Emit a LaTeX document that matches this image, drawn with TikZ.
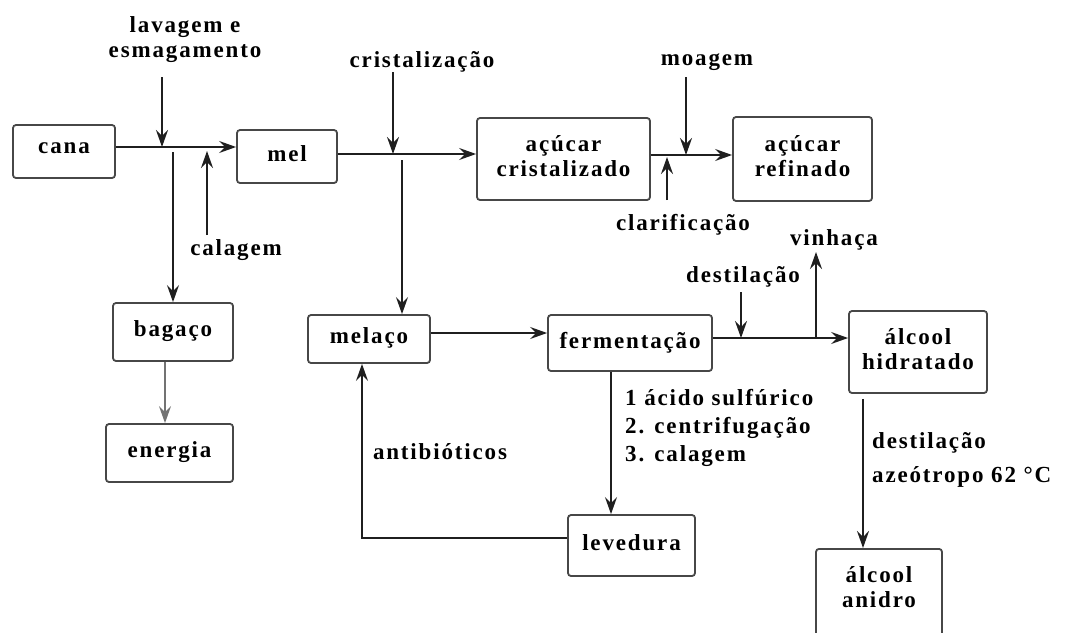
\documentclass[tikz,border=0pt]{standalone}
\usepackage{fontspec}
\setmainfont{Liberation Serif}[LetterSpace=8]
\usetikzlibrary{arrows.meta}
\begin{document}
\begin{tikzpicture}[x=1pt,y=-1pt,
  txt/.style={font=\fontsize{23}{25}\selectfont\bfseries},
  box/.style={txt, draw=black!72, line width=1.8pt, rounded corners=3pt, inner sep=0pt, align=center, text depth=6pt},
  lbl/.style={txt, inner sep=0pt, align=center},
  ln/.style={line width=1.7pt, draw=black!88},
  arr/.style={ln, -{Stealth[length=17pt,width=12pt,inset=6pt]}}]
\useasboundingbox (0,0) rectangle (1083,632);
% boxes
\node[box, minimum width=102pt, minimum height=53pt] (cana) at (64,151.5) {cana};
\node[box, minimum width=100pt, minimum height=53pt] (mel) at (287,156.5) {mel};
\node[box, minimum width=173pt, minimum height=82pt] (acr) at (563.5,159) {açúcar\\cristalizado};
\node[box, minimum width=139pt, minimum height=84pt] (aref) at (802.5,159) {açúcar\\refinado};
\node[box, minimum width=120pt, minimum height=58pt] (bagaco) at (173,332) {bagaço};
\node[box, minimum width=127pt, minimum height=58pt] (energia) at (169.5,453) {energia};
\node[box, minimum width=122pt, minimum height=48pt] (melaco) at (369,339) {melaço};
\node[box, minimum width=164pt, minimum height=56pt] (ferm) at (630,343) {fermentação};
\node[box, minimum width=138pt, minimum height=82pt] (alch) at (918,352) {álcool\\hidratado};
\node[box, minimum width=127pt, minimum height=61pt] (lev) at (631.5,545.5) {levedura};
\node[box, minimum width=126pt, minimum height=97pt, anchor=north] (alca) at (879,548) {};
\node[lbl] (alcat) at (879,587) {álcool\\anidro};
% labels
\node[lbl] (lav) at (185,40) {lavagem e\\esmagamento};
\node[lbl] (cal) at (236,250) {calagem};
\node[lbl] (cri) at (422,62) {cristalização};
\node[lbl] (moa) at (707,62) {moagem};
\node[lbl] (cla) at (683,225) {clarificação};
\node[lbl] (vin) at (834,240) {vinhaça};
\node[lbl] (des) at (743,277) {destilação};
\node[lbl] (ant) at (440,452) {antibióticos};
\node[txt, inner sep=0pt, align=left, anchor=north west, font=\fontsize{23}{28}\selectfont\bfseries] (lst) at (625,389) {1 ácido sulfúrico\\2. centrifugação\\3. calagem};
\node[lbl, anchor=west] (d2) at (872,443) {destilação};
\node[lbl, anchor=west] (az) at (872,477) {azeótropo 62 °C};
% junction / free-end coordinates
\coordinate (jl) at (162,147);
\coordinate (lavs) at (162,77);
\coordinate (jb) at (173,152);
\coordinate (cals) at (207,235);
\coordinate (cale) at (207,151);
\coordinate (jc) at (393,154);
\coordinate (cris) at (393,72);
\coordinate (jm) at (402,160);
\coordinate (jmo) at (686,155);
\coordinate (moas) at (686,77);
\coordinate (clas) at (667,200);
\coordinate (clae) at (667,157);
\coordinate (jd) at (741,338);
\coordinate (dess) at (741,292);
\coordinate (jv) at (816,338);
\coordinate (vine) at (816,252);
\coordinate (bs) at ([xshift=-8pt]bagaco.south);
\coordinate (ms) at ([yshift=6pt]melaco.east);
\coordinate (fe) at ([yshift=5pt]ferm.east);
\coordinate (fs) at ([xshift=-19pt]ferm.south);
\coordinate (lw) at ([yshift=7.5pt]lev.west);
\coordinate (mb) at ([xshift=-7pt]melaco.south);
\coordinate (ah) at ([xshift=-55pt,yshift=-5pt]alch.south);
% connectors
\draw[arr] (cana.east |- jl) -- (mel.west |- jl);
\draw[arr] (lavs) -- (jl);
\draw[arr] (jb) -- (bagaco.north);
\draw[arr] (cals) -- (cale);
\draw[arr] (mel.east |- jc) -- (acr.west |- jc);
\draw[arr] (cris) -- (jc);
\draw[arr] (jm) -- (melaco.north -| jm);
\draw[arr] (acr.east |- jmo) -- (aref.west |- jmo);
\draw[arr] (moas) -- (jmo);
\draw[arr] (clas) -- (clae);
\draw[arr, draw=black!55] (bs) -- (bs |- energia.north);
\draw[arr] (ms) -- (ms -| ferm.west);
\draw[arr] (fe) -- (fe -| alch.west);
\draw[arr] (dess) -- (jd);
\draw[arr] (jv) -- (vine);
\draw[arr] (fs) -- (fs |- lev.north);
\draw[arr] (lw) -| (mb);
\draw[arr] (ah) -- (ah |- alca.north);
\end{tikzpicture}
\end{document}
